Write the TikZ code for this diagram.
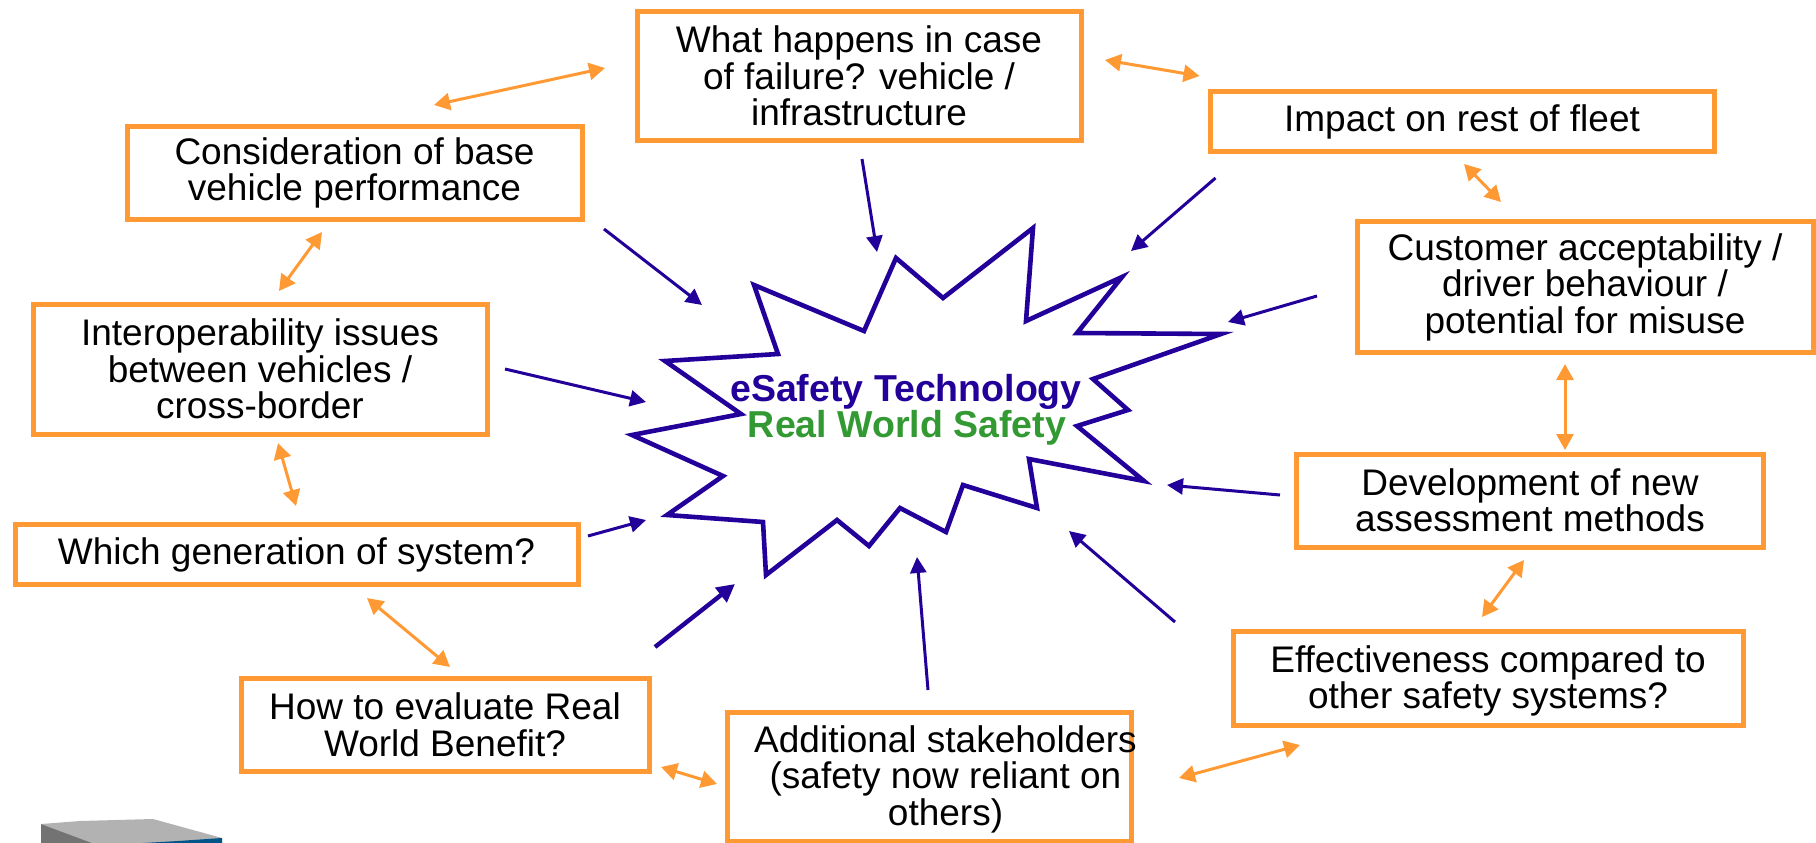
\documentclass[tikz,border=0pt]{standalone}
\usepackage{fontspec}
\setmainfont{Liberation Sans}
\usetikzlibrary{arrows.meta}
\definecolor{boxorange}{HTML}{FF9933}
\definecolor{starblue}{HTML}{220099}
\definecolor{safegreen}{HTML}{339933}
\newcommand{\lowerblock}{\rule{0pt}{32pt}}
\tikzset{
  topic/.style={draw=boxorange,line width=5pt,fill=white,inner sep=0pt,outer sep=0pt,align=center,
    font=\fontsize{37}{36.5}\selectfont,text=black},
  topictext/.style={inner sep=0pt,outer sep=0pt,align=center,font=\fontsize{37}{36.5}\selectfont,text=black},
  link/.style={draw=boxorange,line width=3pt,{Triangle[length=16pt,width=17pt]}-{Triangle[length=16pt,width=17pt]}},
  feed/.style={draw=starblue,line width=3pt,-{Triangle[length=16pt,width=16pt]}},
  feedthick/.style={draw=starblue,line width=4.4pt,-{Triangle[length=18pt,width=18pt]}},
  burst/.style={draw=starblue,line width=4.6pt,line join=miter,miter limit=10,fill=white},
  headline/.style={inner sep=0pt,font=\fontsize{37.5}{38}\selectfont\bfseries}
}
\begin{document}
\begin{tikzpicture}[x=1pt,y=-1pt]
\useasboundingbox (0,0) rectangle (1816,843);
% cut-off picture, bottom left
\fill[black!30] (41,824) -- (80,821) -- (153,819) -- (222,838) -- (222,843) -- (92,843) -- cycle;
\fill[black!55] (41,824) -- (92,843) -- (41,843) -- cycle;
\fill[fill={rgb,255:red,0;green,85;blue,136}] (143,843) -- (178,841) -- (222,838) -- (222,843) -- cycle;
% burst
\draw[burst] (754,285) -- (864,331) -- (896,258) -- (943,298) -- (1033,228) -- (1026,321) -- (1122,277) -- (1077,333) -- (1221,334) -- (1093,379) -- (1128,410) -- (1077,426) -- (1144,481) -- (1029,459) -- (1037,508) -- (963,485) -- (946,532) -- (900,508) -- (869,546) -- (837,520) -- (766,575) -- (763,522) -- (667,515) -- (723,476) -- (632,435) -- (741,414) -- (665,361) -- (778,354) -- cycle;
\node[headline,text=starblue] (tech) at (906,391.5) {eSafety Technology};
\node[headline,text=safegreen] (real) at (907,427.5) {Real World Safety};
% boxes
\node[topic,minimum width=444pt,minimum height=129pt] (fail) at (859,76) {What happens in case\\of failure? vehicle /\\infrastructure};
\node[topic,minimum width=504pt,minimum height=60pt] (fleet) at (1462,121.5) {Impact on rest of fleet};
\node[topic,minimum width=456pt,minimum height=131pt] (cust) at (1585,287) {Customer acceptability /\\driver behaviour /\\potential for misuse};
\node[topic,minimum width=455pt,minimum height=93pt] (base) at (354.5,173) {Consideration of base\\vehicle performance};
\node[topic,minimum width=454pt,minimum height=130pt] (inter) at (260,369) {Interoperability issues\\between vehicles /\\cross-border};
\node[topic,minimum width=563pt,minimum height=60pt] (gen) at (296.5,554.5) {Which generation of system?};
\node[topic,minimum width=408pt,minimum height=93pt] (eval) at (445,725) {How to evaluate Real\\World Benefit?};
\node[topic,minimum width=404pt,minimum height=129pt] (stake) at (929.5,777) {};
\node[topictext] (staketext) at (945.5,776.5) {\lowerblock Additional stakeholders\\(safety now reliant on\\others)};
\node[topic,minimum width=510pt,minimum height=94pt] (effect) at (1488,678.5) {\lowerblock Effectiveness compared to\\other safety systems?};
\node[topic,minimum width=467pt,minimum height=93pt] (dev) at (1530,500.5) {Development of new\\assessment methods};
% connector ends
\coordinate (o1a) at (434,105); \coordinate (o1b) at (605,68);
\coordinate (o2a) at (1105,60); \coordinate (o2b) at (1199.5,76);
\coordinate (o3a) at (1464,164); \coordinate (o3b) at (1501,202);
\coordinate (o4a) at (1565,364); \coordinate (o4b) at (1565,450);
\coordinate (o5a) at (1524,560); \coordinate (o5b) at (1482,617);
\coordinate (o6a) at (1300,745); \coordinate (o6b) at (1179,778);
\coordinate (o7a) at (717,784); \coordinate (o7b) at (661,767);
\coordinate (o8a) at (367,598); \coordinate (o8b) at (450,667);
\coordinate (o9a) at (278,443); \coordinate (o9b) at (296,506);
\coordinate (o10a) at (322,232); \coordinate (o10b) at (279,291);
\foreach \n in {1,...,10} {\draw[link] (o\n a) -- (o\n b);}
\coordinate (b1a) at (604,229); \coordinate (b1b) at (702,305);
\coordinate (b2a) at (862,159); \coordinate (b2b) at (877,252);
\coordinate (b3a) at (1215.5,178); \coordinate (b3b) at (1131,251);
\coordinate (b4a) at (1317,296); \coordinate (b4b) at (1228,322);
\coordinate (b5a) at (1280,495); \coordinate (b5b) at (1167,485);
\coordinate (b6a) at (1175,622); \coordinate (b6b) at (1069,531);
\coordinate (b7a) at (928,690); \coordinate (b7b) at (917,557);
\coordinate (b8a) at (588,536); \coordinate (b8b) at (646,520);
\coordinate (b9a) at (505,369); \coordinate (b9b) at (646,402);
\foreach \n in {1,...,9} {\draw[feed] (b\n a) -- (b\n b);}
\coordinate (b10a) at (655,647); \coordinate (b10b) at (735,584);
\draw[feedthick] (b10a) -- (b10b);
\end{tikzpicture}
\end{document}
